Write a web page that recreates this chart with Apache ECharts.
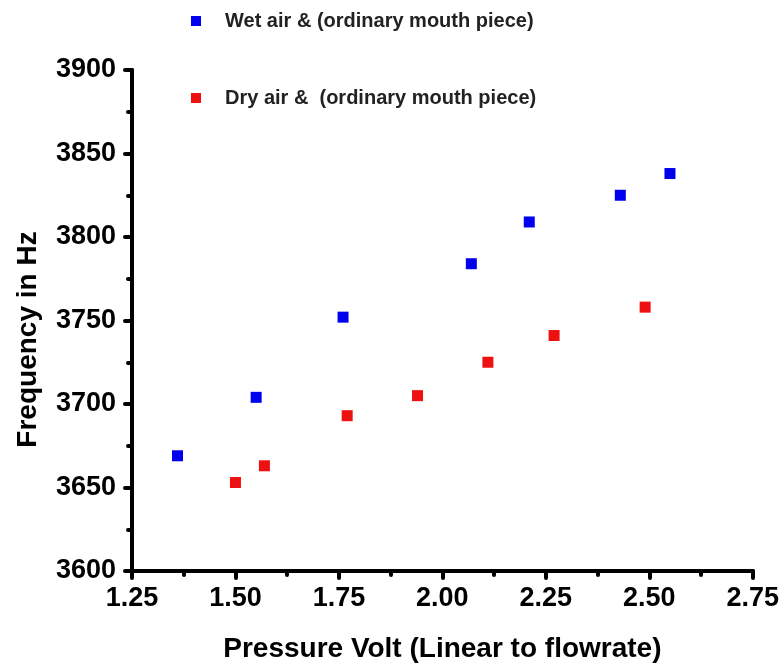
<!DOCTYPE html>
<html>
<head>
<meta charset="utf-8">
<script src="https://cdn.jsdelivr.net/npm/echarts@6/dist/echarts.min.js"></script>
<style>
  html, body { margin: 0; padding: 0; background: #fff; }
  #chart { width: 782px; height: 668px; }
</style>
</head>
<body>
<div id="chart"></div>
<script>
// values
const wetVolt = [1.36, 1.55, 1.76, 2.07, 2.21, 2.43, 2.55]
const wetFreq = [3669, 3704, 3752, 3784, 3809, 3825, 3838]
const dryVolt = [1.50, 1.57, 1.77, 1.94, 2.11, 2.27, 2.49]
const dryFreq = [3653, 3663, 3693, 3705, 3725, 3741, 3758]

const seriesNames = ['Wet air & (ordinary mouth piece)', 'Dry air &  (ordinary mouth piece)']
const xTicks = [1.25, 2.75, 0.25]   // min, max, step
const yTicks = [3600, 3900, 50]

const pairs = (xs, ys) => xs.map((x, i) => [x, ys[i]])

const chart = echarts.init(document.getElementById('chart'))

const font = 'Arial, Liberation Sans'

const axisCommon = {
  axisLine: { lineStyle: { color: '#000', width: 4, cap: 'round' } },
  axisTick: { inside: false, length: 7, lineStyle: { color: '#000', width: 4, cap: 'round' } },
  minorTick: { show: true, splitNumber: 2, length: 4, lineStyle: { color: '#000', width: 4, cap: 'round' } },
  splitLine: { show: false },
  nameTextStyle: { fontFamily: font, fontWeight: 'bold', fontSize: 28, color: '#000' }
}

chart.setOption({
  backgroundColor: '#fff',
  animation: false,
  grid: { left: 132, right: 29, top: 70, bottom: 96 },
  legend: {
    orient: 'vertical',
    left: 186,
    top: 6,
    itemWidth: 10,
    itemHeight: 10,
    itemGap: 57,
    icon: 'rect',
    data: seriesNames,
    textStyle: {
      fontFamily: font,
      fontWeight: 'bold',
      fontSize: 20,
      color: '#222',
      padding: [0, 0, 0, 19]
    }
  },
  xAxis: {
    ...axisCommon,
    type: 'value',
    min: xTicks[0],
    max: xTicks[1],
    interval: xTicks[2],
    name: 'Pressure Volt (Linear to flowrate)',
    nameLocation: 'middle',
    nameGap: 64,
    axisLabel: {
      margin: 14,
      fontFamily: font,
      fontWeight: 'bold',
      fontSize: 27,
      color: '#000',
      formatter: v => v.toFixed(2)
    }
  },
  yAxis: {
    ...axisCommon,
    type: 'value',
    min: yTicks[0],
    max: yTicks[1],
    interval: yTicks[2],
    name: 'Frequency in Hz',
    nameLocation: 'middle',
    nameGap: 90,
    nameTextStyle: { ...axisCommon.nameTextStyle, padding: [0, 38, 0, 0] },
    axisLabel: {
      margin: 16,
      fontFamily: font,
      fontWeight: 'bold',
      fontSize: 27,
      color: '#000',
      formatter: v => String(v)
    }
  },
  series: [
    {
      name: seriesNames[0],
      type: 'scatter',
      symbol: 'rect',
      symbolSize: 11,
      itemStyle: { color: '#0000ee', opacity: 1 },
      data: pairs(wetVolt, wetFreq)
    },
    {
      name: seriesNames[1],
      type: 'scatter',
      symbol: 'rect',
      symbolSize: 11,
      itemStyle: { color: '#ee1111', opacity: 1 },
      data: pairs(dryVolt, dryFreq)
    }
  ]
})
</script>
</body>
</html>
